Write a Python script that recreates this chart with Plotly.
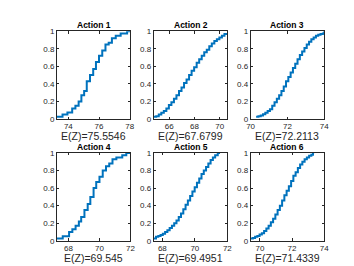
import plotly.graph_objects as go

titles = ["Action 1", "Action 2", "Action 3", "Action 4", "Action 5", "Action 6"]
means = ["75.5546", "67.6799", "72.2113", "69.545", "69.4951", "71.4339"]

a1_x = [73.25, 73.62, 73.94, 74.25, 74.46, 74.67, 74.85, 75.03, 75.2, 75.41, 75.62, 75.8, 76.0,
        76.21, 76.42, 76.63, 76.84, 77.09, 77.41, 77.83, 78.05]
a1_cdf = [0.025, 0.05, 0.075, 0.12, 0.15, 0.2, 0.27, 0.32, 0.43, 0.5, 0.57, 0.65, 0.72,
          0.78, 0.85, 0.87, 0.92, 0.95, 0.975, 1.0, 1.0]

a2_x = [64.77, 64.97, 65.17, 65.37, 65.57, 65.77, 65.97, 66.17, 66.37, 66.57, 66.77, 66.97,
        67.17, 67.37, 67.57, 67.77, 67.97, 68.17, 68.37, 68.57, 68.77, 68.97, 69.17, 69.37,
        69.57, 69.77, 69.97, 70.17, 70.37, 70.6]
a2_cdf = [0.025, 0.03, 0.05, 0.07, 0.09, 0.12, 0.16, 0.19, 0.23, 0.27, 0.32, 0.36,
          0.41, 0.45, 0.5, 0.55, 0.59, 0.64, 0.68, 0.72, 0.76, 0.79, 0.83, 0.86,
          0.89, 0.91, 0.93, 0.95, 0.97, 0.98]

a3_x = [70.3, 70.425, 70.55, 70.675, 70.8, 70.925, 71.05, 71.175, 71.3, 71.425, 71.55, 71.675,
        71.8, 71.925, 72.05, 72.175, 72.3, 72.425, 72.55, 72.675, 72.8, 72.925, 73.05, 73.175,
        73.3, 73.425, 73.55, 73.675, 73.8, 73.925, 74.0]
a3_cdf = [0.025, 0.03, 0.04, 0.055, 0.07, 0.09, 0.11, 0.15, 0.19, 0.23, 0.27, 0.32,
          0.37, 0.43, 0.48, 0.53, 0.58, 0.63, 0.68, 0.73, 0.77, 0.81, 0.85, 0.88,
          0.91, 0.93, 0.95, 0.96, 0.97, 0.975, 1.0]

a4_x = [67.25, 67.63, 68.04, 68.25, 68.46, 68.67, 68.82, 69.03, 69.24, 69.41, 69.62, 69.79, 70.0,
        70.21, 70.42, 70.63, 70.84, 71.09, 71.47, 71.73, 72.0]
a4_cdf = [0.025, 0.05, 0.1, 0.13, 0.17, 0.22, 0.27, 0.35, 0.42, 0.5, 0.6, 0.67, 0.73,
          0.8, 0.85, 0.88, 0.93, 0.95, 0.975, 1.0, 1.0]

a5_x = [67.47, 67.61, 67.75, 67.89, 68.03, 68.17, 68.31, 68.45, 68.59, 68.73, 68.87, 69.01,
        69.15, 69.29, 69.43, 69.57, 69.71, 69.85, 69.99, 70.13, 70.27, 70.41, 70.55, 70.69,
        70.83, 70.97, 71.11, 71.25, 71.41, 71.55]
a5_cdf = [0.025, 0.045, 0.055, 0.065, 0.08, 0.1, 0.12, 0.145, 0.17, 0.2, 0.23, 0.27,
          0.31, 0.36, 0.41, 0.46, 0.51, 0.56, 0.61, 0.66, 0.71, 0.76, 0.8, 0.84,
          0.88, 0.92, 0.95, 0.975, 1.0, 1.0]

a6_x = [69.42, 69.56, 69.7, 69.84, 69.98, 70.12, 70.26, 70.4, 70.54, 70.68, 70.82, 70.96,
        71.1, 71.24, 71.38, 71.52, 71.66, 71.8, 71.94, 72.08, 72.22, 72.36, 72.5, 72.64,
        72.78, 72.92, 73.06, 73.2, 73.3, 73.37]
a6_cdf = [0.025, 0.03, 0.045, 0.055, 0.07, 0.085, 0.11, 0.14, 0.17, 0.21, 0.25, 0.3,
          0.35, 0.4, 0.46, 0.52, 0.57, 0.62, 0.68, 0.74, 0.78, 0.83, 0.87, 0.9,
          0.93, 0.95, 0.97, 0.98, 1.0, 1.0]

xranges = [[73.25, 78.05], [64.77, 70.6], [70.0, 74.0], [67.25, 72.0], [67.47, 72.0], [69.42, 74.0]]
xticks = [[74, 76, 78], [66, 68, 70], [70, 72, 74], [68, 70, 72], [68, 70, 72], [70, 72, 74]]
yticks = [0, 0.2, 0.4, 0.6, 0.8, 1]

series = [(a1_x, a1_cdf), (a2_x, a2_cdf), (a3_x, a3_cdf),
          (a4_x, a4_cdf), (a5_x, a5_cdf), (a6_x, a6_cdf)]

xdoms = [[0.13, 0.3434], [0.4108, 0.6242], [0.6916, 0.905]]
ydoms = [[0.5838, 0.925], [0.11, 0.4512]]

axcol = "#262626"
font = "Liberation Sans, Arial, Helvetica, sans-serif"

fig = go.Figure()
layout = dict(width=354, height=266, margin=dict(l=0, r=0, t=0, b=0),
              paper_bgcolor="white", plot_bgcolor="white", showlegend=False,
              font=dict(family=font, color=axcol))
annotations = []
for i, (xs, ys) in enumerate(series):
    r, c = divmod(i, 3)
    sfx = "" if i == 0 else str(i + 1)
    fig.add_trace(go.Scatter(x=xs, y=ys, mode="lines", line_shape="hv",
                             line=dict(color="#0072BD", width=2),
                             xaxis="x" + sfx, yaxis="y" + sfx, cliponaxis=True))
    common = dict(showline=True, mirror="ticks", linecolor=axcol, linewidth=0.8,
                  ticks="inside", ticklen=2.5, tickcolor=axcol, tickwidth=0.8,
                  showgrid=False, zeroline=False, tickfont=dict(size=8, color=axcol, family=font))
    layout["xaxis" + sfx] = dict(domain=xdoms[c], anchor="y" + sfx, range=xranges[i],
                                 tickvals=xticks[i], ticktext=[str(t) for t in xticks[i]],
                                 **common)
    layout["yaxis" + sfx] = dict(domain=ydoms[r], anchor="x" + sfx, range=[0, 1],
                                 tickvals=yticks, ticktext=["0", "0.2", "0.4", "0.6", "0.8", "1"],
                                 **common)
    xc = (xdoms[c][0] + xdoms[c][1]) / 2
    annotations.append(dict(text="<b>" + titles[i] + "</b>", xref="paper", yref="paper",
                            x=xc, y=ydoms[r][1],
                            xanchor="center", yanchor="bottom", showarrow=False,
                            font=dict(size=8.5, color="#000000", family=font), yshift=-1))
    annotations.append(dict(text="E(Z)=" + means[i], xref="paper", yref="paper",
                            x=xc, y=ydoms[r][0], xanchor="center", yanchor="middle",
                            showarrow=False, yshift=-17,
                            font=dict(size=10.5, color=axcol, family=font)))
layout["annotations"] = annotations
fig.update_layout(**layout)
fig.write_html("out.html")
